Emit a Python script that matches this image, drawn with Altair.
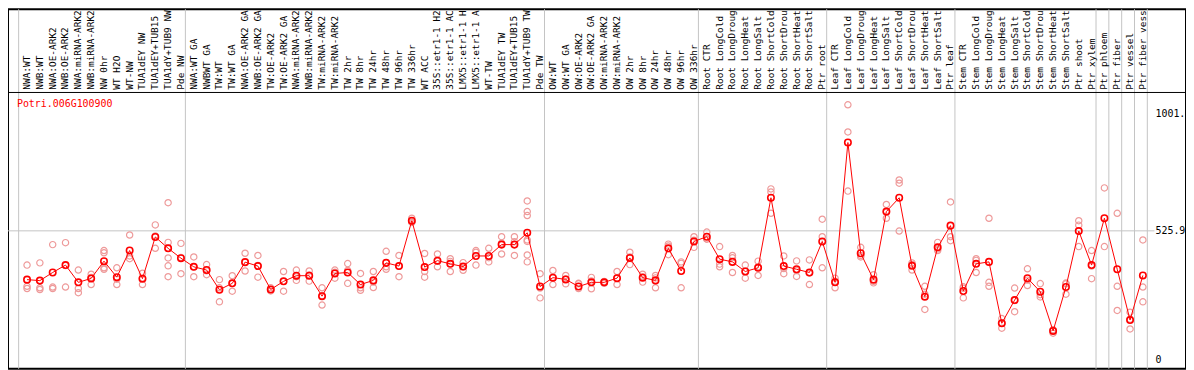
import altair as alt
import pandas as pd

labels = [
    "NWA:WT", "NWB:WT", "NWA:OE-ARK2", "NWB:OE-ARK2", "NWA:miRNA-ARK2", "NWB:miRNA-ARK2",
    "NW 0hr", "WT H2O", "WT-NW", "TUA1dEY NW", "TUA1dEY+TUB15", "TUA1dY+TUB9 NW", "Pde NW",
    "NWA:WT GA", "NWBWT GA", "TW:WT", "TW:WT GA", "NWA:OE-ARK2 GA", "NWB:OE-ARK2 GA",
    "TW:OE-ARK2", "TW:OE-ARK2 GA", "NWA:miRNA-ARK2", "NWB:miRNA-ARK2", "TW:miRNA-ARK2",
    "TW:miRNA-ARK2", "TW 2hr", "TW 8hr", "TW 24hr", "TW 48hr", "TW 96hr", "TW 336hr", "WT ACC",
    "35S::etr1-1 H2", "35S::etr1-1 AC", "LMX5::etr1-1 H", "LMX5::etr1-1 A", "WT-TW",
    "TUA1dEY TW", "TUA1dEY+TUB15", "TUA1dY+TUB9 TW", "Pde TW",
    "OW:WT", "OW:WT GA", "OW:OE-ARK2", "OW:OE-ARK2 GA", "OW:miRNA-ARK2", "OW:miRNA-ARK2",
    "OW 2hr", "OW 8hr", "OW 24hr", "OW 48hr", "OW 96hr", "OW 336hr",
    "Root CTR", "Root LongCold", "Root LongDroug", "Root LongHeat", "Root LongSalt",
    "Root ShortCold", "Root ShortDrou", "Root ShortHeat", "Root ShortSalt", "Ptr root",
    "Leaf CTR", "Leaf LongCold", "Leaf LongDroug", "Leaf LongHeat", "Leaf LongSalt",
    "Leaf ShortCold", "Leaf ShortDrou", "Leaf ShortHeat", "Leaf ShortSalt", "Ptr leaf",
    "Stem CTR", "Stem LongCold", "Stem LongDroug", "Stem LongHeat", "Stem LongSalt",
    "Stem ShortCold", "Stem ShortDrou", "Stem ShortHeat", "Stem ShortSalt", "Ptr shoot",
    "Ptr xylem", "Ptr phloem", "Ptr fiber", "Ptr vessel", "Ptr fiber vess",
]

group_sizes = [13, 28, 12, 10, 10, 11, 1, 1, 1, 1]

means = [
    328, 324, 357, 387, 317, 333, 403, 338, 446, 332,
    501, 455, 415, 380, 367, 287, 313, 399, 383, 288,
    321, 344, 344, 261, 353, 357, 308, 325, 396, 383,
    567, 379, 405, 392, 381, 424, 424, 470, 470, 518,
    300, 336, 329, 300, 317, 317, 334, 416, 336, 325,
    455, 363, 483, 502, 411, 400, 361, 376, 660, 383,
    370, 357, 483, 317, 884, 435, 328, 604, 660, 384,
    259, 459, 547, 282, 392, 400, 151, 245, 334, 279,
    120, 298, 525, 387, 577, 370, 164, 345,
]

replicates = [
    [387, 301, 292], [396, 295, 288], [470, 298, 292], [478, 298, 385], [367, 292, 275],
    [350, 308, 337], [446, 437, 376, 370], [376, 308, 330], [509, 424, 413], [354, 308, 334],
    [550, 455, 505], [640, 479, 455, 416, 384, 340], [475, 352, 418], [420, 340, 380], [389, 348, 364],
    [328, 238, 295], [344, 281, 313], [435, 363, 399], [426, 338, 385], [295, 282, 288],
    [361, 281, 321], [367, 325, 340], [363, 322, 347], [295, 225, 263], [367, 334, 358],
    [393, 313, 365], [353, 285, 295], [361, 296, 318], [443, 370, 380], [426, 340, 383],
    [577, 560, 564], [434, 361, 338], [432, 380, 403], [413, 361, 402], [397, 380, 366],
    [446, 387, 439], [455, 400, 417], [502, 432, 476], [502, 426, 482],
    [647, 604, 588, 489, 483, 428, 400],
    [352, 254, 294], [365, 308, 335], [345, 311, 331], [313, 311, 292], [337, 291, 323],
    [321, 317, 313], [361, 308, 333], [439, 389, 420], [350, 318, 340], [345, 295, 335],
    [472, 429, 464], [400, 295, 394], [502, 459, 488], [521, 492, 493], [462, 380, 391],
    [426, 357, 417], [387, 334, 362], [403, 345, 380], [696, 683, 597], [424, 352, 373],
    [404, 341, 365], [408, 308, 355], [573, 502, 376], [334, 295, 322], [1037, 927, 687],
    [459, 420, 426], [348, 321, 315], [633, 577, 602], [732, 719, 525], [396, 367, 389],
    [301, 207, 269], [479, 446, 452], [643, 502, 486], [299, 254, 293], [413, 357, 406],
    [577, 317, 301], [170, 131, 152], [294, 198, 243], [372, 304, 326], [312, 258, 267],
    [111, 124, 125], [314, 269, 311], [567, 549, 462], [446, 332, 383], [700, 462],
    [597, 301, 203], [196, 128, 168], [489, 298, 238],
]

gene_id = "Potri.006G100900"
ref_value = 525.9
axis_values = [1001, 525.9, 0]
axis_texts = ["1001.", "525.9", "0"]

# ---------------------------------------------------------------
n = len(labels)
df_mean = pd.DataFrame({"idx": list(range(n)), "label": labels, "mean": means})
rows = []
for i, reps in enumerate(replicates):
    for v in reps:
        rows.append({"idx": i, "value": v})
df_rep = pd.DataFrame(rows)

W, H = 1186, 362
X0, X1 = -1.4846, 90.3615
Y0, Y1 = -33.5, 1424.6
xs = alt.Scale(domain=[X0, X1], nice=False, zero=False)
ys = alt.Scale(domain=[Y0, Y1], nice=False, zero=False)
FONT = "DejaVu Sans Mono"

bounds = [0]
for g in group_sizes:
    bounds.append(bounds[-1] + g)
df_sep = pd.DataFrame({"pos": [b - 0.654 for b in bounds]})

sep = alt.Chart(df_sep).mark_rule(color="#c4c4c4", strokeWidth=1).encode(
    x=alt.X("pos:Q", scale=xs, axis=None)
)

hline = alt.Chart(pd.DataFrame({"a": [X0], "b": [n - 0.1], "v": [ref_value]})).mark_rule(
    color="#c4c4c4", strokeWidth=1
).encode(
    x=alt.X("a:Q", scale=xs, axis=None), x2="b:Q", y=alt.Y("v:Q", scale=ys, axis=None)
)

band_line = alt.Chart(pd.DataFrame({"a": [X0], "b": [X1], "v": [1087]})).mark_rule(
    color="black", strokeWidth=1
).encode(
    x=alt.X("a:Q", scale=xs, axis=None), x2="b:Q", y=alt.Y("v:Q", scale=ys, axis=None)
)

lab = alt.Chart(df_mean).mark_text(
    angle=270, align="left", baseline="middle", font=FONT, fontSize=9.5,
    color="black"
).encode(
    x=alt.X("idx:Q", scale=xs, axis=None),
    y=alt.value(81),
    text="label:N",
)

title = alt.Chart(pd.DataFrame({"x": [-0.79], "y": [1042], "t": [gene_id]})).mark_text(
    align="left", baseline="middle", font=FONT, fontSize=10, color="red"
).encode(
    x=alt.X("x:Q", scale=xs, axis=None), y=alt.Y("y:Q", scale=ys, axis=None), text="t:N"
)

right = alt.Chart(pd.DataFrame({"v": axis_values, "t": axis_texts, "x": [n - 0.02] * 3})).mark_text(
    align="left", baseline="middle", font=FONT, fontSize=10, color="black"
).encode(
    x=alt.X("x:Q", scale=xs, axis=None), y=alt.Y("v:Q", scale=ys, axis=None), text="t:N"
)

reps_pts = alt.Chart(df_rep).mark_point(
    shape="circle", filled=False, color="#ee9a9a", size=40, strokeWidth=1.2, opacity=1
).encode(
    x=alt.X("idx:Q", scale=xs, axis=None), y=alt.Y("value:Q", scale=ys, axis=None)
)

line = alt.Chart(df_mean).mark_line(color="red", strokeWidth=1).encode(
    x=alt.X("idx:Q", scale=xs, axis=None), y=alt.Y("mean:Q", scale=ys, axis=None)
)

mean_pts = alt.Chart(df_mean).mark_point(
    shape="circle", filled=False, color="red", size=42, strokeWidth=1.6, opacity=1
).encode(
    x=alt.X("idx:Q", scale=xs, axis=None), y=alt.Y("mean:Q", scale=ys, axis=None)
)

chart = alt.layer(sep, hline, band_line, lab, title, right, reps_pts, line, mean_pts).properties(
    width=W, height=H, padding=0, autosize=alt.AutoSizeParams(type="none"),
    background="white",
).configure_view(stroke="black", strokeWidth=2)

chart.save("out.html", embed_options={"renderer": "svg", "actions": False})
